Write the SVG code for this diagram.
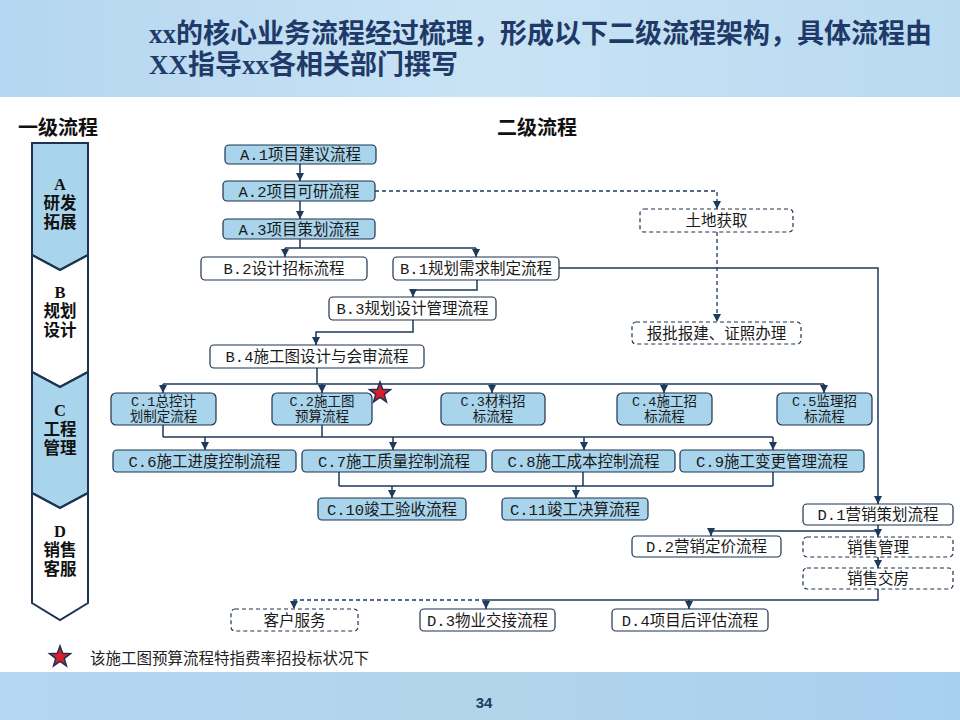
<svg xmlns="http://www.w3.org/2000/svg" xmlns:xlink="http://www.w3.org/1999/xlink" width="960" height="720" viewBox="0 0 960 720">
<defs>
  <linearGradient id="band" x1="0" y1="0" x2="1" y2="0">
    <stop offset="0" stop-color="#b4d6f0"/>
    <stop offset="0.5" stop-color="#c9e3f4"/>
    <stop offset="1" stop-color="#b9daf1"/>
  </linearGradient>
  <linearGradient id="band2" x1="0" y1="0" x2="1" y2="0">
    <stop offset="0" stop-color="#b3d6f3"/>
    <stop offset="0.5" stop-color="#b1d5ea"/>
    <stop offset="1" stop-color="#a9cff0"/>
  </linearGradient>
  <marker id="arr" viewBox="0 0 8 8" refX="8" refY="4" markerWidth="8" markerHeight="8" markerUnits="userSpaceOnUse" orient="auto">
    <path d="M0,0 L8,4 L0,8 z" fill="#1d3a5c"/>
  </marker>
  <polygon id="star" points="0,-11 2.65,-3.64 10.46,-3.4 4.28,1.39 6.47,8.9 0,4.5 -6.47,8.9 -4.28,1.39 -10.46,-3.4 -2.65,-3.64"/>
</defs>
<style>
  .title{font-family:"Liberation Serif","Noto Sans CJK SC",serif;font-size:27px;font-weight:bold;fill:#1f3a68}
  .head{font-family:"Liberation Serif","Noto Sans CJK SC",serif;font-size:20px;font-weight:bold;fill:#111}
  .lvl{font-family:"Liberation Serif","Noto Sans CJK SC",serif;font-size:16.5px;font-weight:bold;fill:#111;text-anchor:middle}
  .seg{stroke:#1d3350;stroke-width:2;stroke-linejoin:miter}
  .blue{fill:#a8d4ec}
  .white{fill:#ffffff}
  .box{stroke:#1d3350;stroke-width:1.2}
  .dash{stroke-dasharray:4,3}
  .t{font-family:"Liberation Mono","Noto Sans CJK SC",monospace;font-size:15.5px;fill:#1a1a1a;text-anchor:middle}
  .t2{font-family:"Liberation Mono","Noto Sans CJK SC",monospace;font-size:13.5px;fill:#1a1a1a;text-anchor:middle}
  .c{fill:none;stroke:#1d3a5c;stroke-width:1.5}
  .cd{fill:none;stroke:#1d3a5c;stroke-width:1.3;stroke-dasharray:4,3}
  .star{fill:#d8202c;stroke:#1f2f55;stroke-width:1.5}
</style>

<!-- background -->
<rect x="0" y="0" width="960" height="720" fill="#ffffff"/>
<rect x="0" y="0" width="960" height="97" fill="url(#band)"/>
<rect x="0" y="672" width="960" height="48" fill="url(#band2)"/>

<!-- title -->
<text class="title" x="149" y="43">xx的核心业务流程经过梳理，形成以下二级流程架构，具体流程由</text>
<text class="title" x="149" y="74">XX指导xx各相关部门撰写</text>

<text class="head" x="18" y="135">一级流程</text>
<text class="head" x="497" y="135">二级流程</text>

<!-- level 1 strip -->
<g id="lvlA">
  <polygon class="seg blue" points="32,143 88,143 88,255 60,270 32,255"/>
  <text class="lvl" x="60" y="190">A</text>
  <text class="lvl" x="60" y="209">研发</text>
  <text class="lvl" x="60" y="228">拓展</text>
</g>
<g id="lvlB">
  <polygon class="seg white" points="32,255 60,270 88,255 88,372 60,387 32,372"/>
  <text class="lvl" x="60" y="298">B</text>
  <text class="lvl" x="60" y="317">规划</text>
  <text class="lvl" x="60" y="336">设计</text>
</g>
<g id="lvlC">
  <polygon class="seg blue" points="32,372 60,387 88,372 88,493 60,508 32,493"/>
  <text class="lvl" x="60" y="416">C</text>
  <text class="lvl" x="60" y="435">工程</text>
  <text class="lvl" x="60" y="454">管理</text>
</g>
<g id="lvlD">
  <polygon class="seg white" points="32,493 60,508 88,493 88,603 60,620 32,603"/>
  <text class="lvl" x="60" y="537">D</text>
  <text class="lvl" x="60" y="556">销售</text>
  <text class="lvl" x="60" y="575">客服</text>
</g>

<!-- connectors -->
<g id="connectors">
  <path class="c" d="M300,164 V181" marker-end="url(#arr)"/>
  <path class="c" d="M300,201 V219" marker-end="url(#arr)"/>
  <path class="c" d="M300,239 V248 M285,248 H476"/>
  <path class="c" d="M285,248 V257" marker-end="url(#arr)"/>
  <path class="c" d="M476,248 V257" marker-end="url(#arr)"/>
  <path class="c" d="M477,280 V290 H413 V297" marker-end="url(#arr)"/>
  <path class="c" d="M413,320 V332 H316 V345" marker-end="url(#arr)"/>
  <path class="c" d="M317,368 V384 M163,384 H824"/>
  <path class="c" d="M163,384 V393" marker-end="url(#arr)"/>
  <path class="c" d="M322,384 V393" marker-end="url(#arr)"/>
  <path class="c" d="M492,384 V393" marker-end="url(#arr)"/>
  <path class="c" d="M664,384 V393" marker-end="url(#arr)"/>
  <path class="c" d="M824,384 V393" marker-end="url(#arr)"/>
  <path class="c" d="M163,425 V437 M322,425 V437 M163,437 H773"/>
  <path class="c" d="M205,437 V450" marker-end="url(#arr)"/>
  <path class="c" d="M393,437 V450" marker-end="url(#arr)"/>
  <path class="c" d="M584,437 V450" marker-end="url(#arr)"/>
  <path class="c" d="M773,437 V450" marker-end="url(#arr)"/>
  <path class="c" d="M339,472 V486 M583,472 V486 M773,472 V486 M339,486 H773"/>
  <path class="c" d="M392,486 V498" marker-end="url(#arr)"/>
  <path class="c" d="M576,486 V498" marker-end="url(#arr)"/>
  <path class="c" d="M559,268 H878 V504" marker-end="url(#arr)"/>
  <path class="c" d="M878,525 V537" marker-end="url(#arr)"/>
  <path class="c" d="M878,531 H711 V536" marker-end="url(#arr)"/>
  <path class="c" d="M878,557 V568" marker-end="url(#arr)"/>
  <path class="c" d="M878,589 V600 H486"/>
  <path class="c" d="M486,600 V609" marker-end="url(#arr)"/>
  <path class="c" d="M689,600 V609" marker-end="url(#arr)"/>
  <path class="cd" d="M486,600 H294 V609" marker-end="url(#arr)"/>
  <path class="cd" d="M375,191 H717 V209" marker-end="url(#arr)"/>
  <path class="cd" d="M717,232 V322" marker-end="url(#arr)"/>
</g>

<!-- level 2 nodes -->
<g id="A1"><rect class="box blue" x="225" y="145" width="151" height="19" rx="4"/><text class="t" x="300.5" y="160">A.1项目建议流程</text></g>
<g id="A2"><rect class="box blue" x="223" y="181" width="152" height="20" rx="4"/><text class="t" x="299" y="196.5">A.2项目可研流程</text></g>
<g id="A3"><rect class="box blue" x="223" y="219" width="152" height="20" rx="4"/><text class="t" x="299" y="234.5">A.3项目策划流程</text></g>
<g id="B2"><rect class="box white" x="201" y="257" width="166" height="23" rx="4"/><text class="t" x="284" y="274">B.2设计招标流程</text></g>
<g id="B1"><rect class="box white" x="393" y="257" width="166" height="23" rx="4"/><text class="t" x="476" y="274">B.1规划需求制定流程</text></g>
<g id="B3"><rect class="box white" x="329" y="297" width="167" height="23" rx="4"/><text class="t" x="412.5" y="314">B.3规划设计管理流程</text></g>
<g id="B4"><rect class="box white" x="210" y="345" width="214" height="23" rx="4"/><text class="t" x="317" y="362">B.4施工图设计与会审流程</text></g>
<g id="land"><rect class="box white dash" x="640" y="209" width="153" height="23" rx="4"/><text class="t" x="716.5" y="226">土地获取</text></g>
<g id="permit"><rect class="box white dash" x="632" y="322" width="169" height="22" rx="4"/><text class="t" x="716.5" y="338.5">报批报建、证照办理</text></g>

<g id="C1"><rect class="box blue" x="111" y="393" width="105" height="32" rx="5"/><text class="t2" x="163.5" y="406">C.1总控计</text><text class="t2" x="163.5" y="421">划制定流程</text></g>
<g id="C2"><rect class="box blue" x="272" y="393" width="100" height="32" rx="5"/><text class="t2" x="322" y="406">C.2施工图</text><text class="t2" x="322" y="421">预算流程</text></g>
<g id="C3"><rect class="box blue" x="441" y="393" width="104" height="32" rx="5"/><text class="t2" x="493" y="406">C.3材料招</text><text class="t2" x="493" y="421">标流程</text></g>
<g id="C4"><rect class="box blue" x="617" y="393" width="95" height="32" rx="5"/><text class="t2" x="664.5" y="406">C.4施工招</text><text class="t2" x="664.5" y="421">标流程</text></g>
<g id="C5"><rect class="box blue" x="777" y="393" width="95" height="32" rx="5"/><text class="t2" x="824.5" y="406">C.5监理招</text><text class="t2" x="824.5" y="421">标流程</text></g>
<g id="C6"><rect class="box blue" x="113" y="450" width="183" height="22" rx="4"/><text class="t" x="204.5" y="466.5">C.6施工进度控制流程</text></g>
<g id="C7"><rect class="box blue" x="302" y="450" width="184" height="22" rx="4"/><text class="t" x="394" y="466.5">C.7施工质量控制流程</text></g>
<g id="C8"><rect class="box blue" x="492" y="450" width="183" height="22" rx="4"/><text class="t" x="583.5" y="466.5">C.8施工成本控制流程</text></g>
<g id="C9"><rect class="box blue" x="680" y="450" width="184" height="22" rx="4"/><text class="t" x="772" y="466.5">C.9施工变更管理流程</text></g>
<g id="C10"><rect class="box blue" x="318" y="498" width="148" height="22" rx="4"/><text class="t" x="392" y="514.5">C.10竣工验收流程</text></g>
<g id="C11"><rect class="box blue" x="502" y="498" width="146" height="22" rx="4"/><text class="t" x="575" y="514.5">C.11竣工决算流程</text></g>

<g id="D1"><rect class="box white" x="803" y="504" width="150" height="21" rx="4"/><text class="t" x="878" y="520">D.1营销策划流程</text></g>
<g id="D2"><rect class="box white" x="632" y="536" width="149" height="21" rx="4"/><text class="t" x="706.5" y="552">D.2营销定价流程</text></g>
<g id="salesMgmt"><rect class="box white dash" x="803" y="537" width="150" height="20" rx="4"/><text class="t" x="878" y="552.5">销售管理</text></g>
<g id="salesDelivery"><rect class="box white dash" x="803" y="568" width="150" height="21" rx="4"/><text class="t" x="878" y="584">销售交房</text></g>
<g id="customer"><rect class="box white dash" x="231" y="609" width="127" height="22" rx="4"/><text class="t" x="294.5" y="625.5">客户服务</text></g>
<g id="D3"><rect class="box white" x="420" y="609" width="135" height="22" rx="4"/><text class="t" x="487.5" y="625.5">D.3物业交接流程</text></g>
<g id="D4"><rect class="box white" x="612" y="609" width="156" height="22" rx="4"/><text class="t" x="690" y="625.5">D.4项目后评估流程</text></g>

<!-- marks -->
<use xlink:href="#star" href="#star" class="star" x="380" y="393"/>
<use xlink:href="#star" href="#star" class="star" x="60" y="657"/>
<text x="90" y="664" style="font-family:'Noto Sans CJK SC',sans-serif;font-size:15.5px;fill:#222">该施工图预算流程特指费率招投标状况下</text>

<text x="484" y="708" style="font-family:'Liberation Sans',sans-serif;font-size:15px;font-weight:bold;fill:#1f3a5f;text-anchor:middle">34</text>
</svg>
